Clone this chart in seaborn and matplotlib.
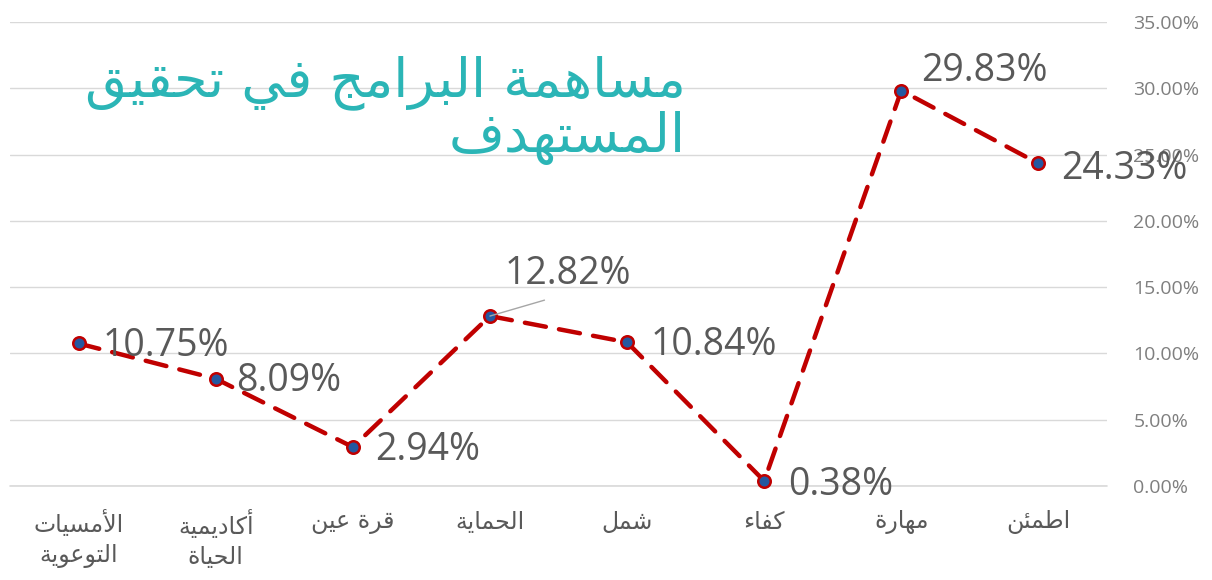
import numpy as np
import pandas as pd
import seaborn as sns
import matplotlib.pyplot as plt

FACE_COLOR = "#FFFFFF"
LINE_COLOR = "#C00000"
MARKER_COLOR = "#2458A0"
LABEL_COLOR = "#595959"
TICK_COLOR = "#7F7F7F"
GRID_COLOR = "#D9D9D9"
TITLE_COLOR = "#2BB5B6"

# chart data
programs = ["الأمسيات\nالتوعوية", "أكاديمية\nالحياة", "قرة عين", "الحماية",
            "شمل", "كفاء", "مهارة", "اطمئن"]
shares = [10.75, 8.09, 2.94, 12.82, 10.84, 0.38, 29.83, 24.33]
y_ticks = [0, 5, 10, 15, 20, 25, 30, 35]
title_lines = ["مساهمة البرامج في تحقيق", "المستهدف"]

# label offsets (points) for each data label
label_offsets = [(17, -1.5), (15, -1.5), (16, -2), (56, 30), (17, -2), (17, -3), (14, 14), (16, -4)]


# matplotlib has no arabic shaping, so pick the presentation forms by hand
FORMS = {
    "ء": (0xFE80, 1), "آ": (0xFE81, 2), "أ": (0xFE83, 2), "ؤ": (0xFE85, 2),
    "إ": (0xFE87, 2), "ئ": (0xFE89, 4), "ا": (0xFE8D, 2), "ب": (0xFE8F, 4),
    "ة": (0xFE93, 2), "ت": (0xFE95, 4), "ث": (0xFE99, 4), "ج": (0xFE9D, 4),
    "ح": (0xFEA1, 4), "خ": (0xFEA5, 4), "د": (0xFEA9, 2), "ذ": (0xFEAB, 2),
    "ر": (0xFEAD, 2), "ز": (0xFEAF, 2), "س": (0xFEB1, 4), "ش": (0xFEB5, 4),
    "ص": (0xFEB9, 4), "ض": (0xFEBD, 4), "ط": (0xFEC1, 4), "ظ": (0xFEC5, 4),
    "ع": (0xFEC9, 4), "غ": (0xFECD, 4), "ف": (0xFED1, 4), "ق": (0xFED5, 4),
    "ك": (0xFED9, 4), "ل": (0xFEDD, 4), "م": (0xFEE1, 4), "ن": (0xFEE5, 4),
    "ه": (0xFEE9, 4), "و": (0xFEED, 2), "ى": (0xFEEF, 2), "ي": (0xFEF1, 4),
}
LAM_ALEF = {"آ": 0xFEF5, "أ": 0xFEF7, "إ": 0xFEF9, "ا": 0xFEFB}


def shape_line(text):
    tokens = []
    i = 0
    while i < len(text):
        ch = text[i]
        if ch == "ل" and i + 1 < len(text) and text[i + 1] in LAM_ALEF:
            tokens.append((LAM_ALEF[text[i + 1]], 2))
            i += 2
            continue
        tokens.append(FORMS.get(ch, ch))
        i += 1
    out = []
    for k, tok in enumerate(tokens):
        if isinstance(tok, str):
            out.append(tok)
            continue
        start, n = tok
        prev = tokens[k - 1] if k > 0 else None
        nxt = tokens[k + 1] if k + 1 < len(tokens) else None
        joins_prev = n >= 2 and isinstance(prev, tuple) and prev[1] == 4
        joins_next = n == 4 and isinstance(nxt, tuple) and nxt[1] >= 2
        if n == 4 and joins_prev and joins_next:
            off = 3
        elif joins_prev:
            off = 1
        elif joins_next:
            off = 2
        else:
            off = 0
        out.append(chr(start + off))
    return "".join(out)[::-1]


def shape(text):
    return "\n".join(shape_line(line) for line in text.split("\n"))


def main():
    df = pd.DataFrame({"pos": np.arange(len(programs)), "share": shares})

    sns.set_style("white")
    plt.rcParams["font.family"] = ["Open Sans", "DejaVu Sans"]

    fig = plt.figure(figsize=(12.12, 5.8), dpi=100)
    fig.set_facecolor(FACE_COLOR)
    ax = fig.add_axes([10 / 1212, 94 / 580, 1097 / 1212, 464 / 580])
    ax.set_facecolor(FACE_COLOR)

    sns.lineplot(
        x="pos", y="share", data=df, ax=ax,
        color=LINE_COLOR, linewidth=3.2, marker="o", markersize=9,
        markerfacecolor=MARKER_COLOR, markeredgecolor=LINE_COLOR, markeredgewidth=1.8,
    )
    ax.lines[0].set_dashes((4.8, 3))
    ax.lines[0].set_dash_capstyle("round")
    ax.lines[0].set_clip_on(False)

    ax.set_xlim(-0.5, len(programs) - 0.5)
    ax.set_ylim(0, 35)
    ax.set_yticks(y_ticks)
    ax.set_yticklabels([f"{v:.2f}%" for v in y_ticks], fontsize=14, color=TICK_COLOR)
    ax.yaxis.tick_right()
    ax.grid(axis="y", color=GRID_COLOR, linewidth=1)
    ax.axhline(0, color=GRID_COLOR, linewidth=1.2, clip_on=False, zorder=0)
    ax.set_axisbelow(True)
    ax.tick_params(axis="y", length=0, pad=19)
    ax.tick_params(axis="x", length=0, pad=17)
    ax.set_xticks(range(len(programs)))
    ax.set_xticklabels([shape(p) for p in programs], fontsize=17, color=LABEL_COLOR,
                       family="DejaVu Sans", linespacing=1.35, va="top")
    ax.set_xlabel("")
    ax.set_ylabel("")
    for side in ["top", "right", "left", "bottom"]:
        ax.spines[side].set_visible(False)

    # data labels
    for i, (val, off) in enumerate(zip(shares, label_offsets)):
        if i == 3:
            ax.annotate(f"{val:.2f}%", xy=(i, val), xytext=off, textcoords="offset points",
                        ha="center", va="center", fontsize=27, color=LABEL_COLOR,
                        arrowprops=dict(arrowstyle="-", color="#A6A6A6", lw=1,
                                        shrinkA=9, shrinkB=0, relpos=(0.5, 0)))
        else:
            ax.annotate(f"{val:.2f}%", xy=(i, val), xytext=off, textcoords="offset points",
                        ha="left", va="center", fontsize=27, color=LABEL_COLOR)

    # title inside the plot area
    fig.text(686 / 1212, 1 - 96 / 580, shape(title_lines[0]), ha="right", va="baseline",
             fontsize=39, color=TITLE_COLOR, family="DejaVu Sans")
    fig.text(686 / 1212, 1 - 152 / 580, shape(title_lines[1]), ha="right", va="baseline",
             fontsize=39, color=TITLE_COLOR, family="DejaVu Sans")

    plt.savefig("out.png", dpi=100, facecolor=FACE_COLOR)


if __name__ == "__main__":
    main()
